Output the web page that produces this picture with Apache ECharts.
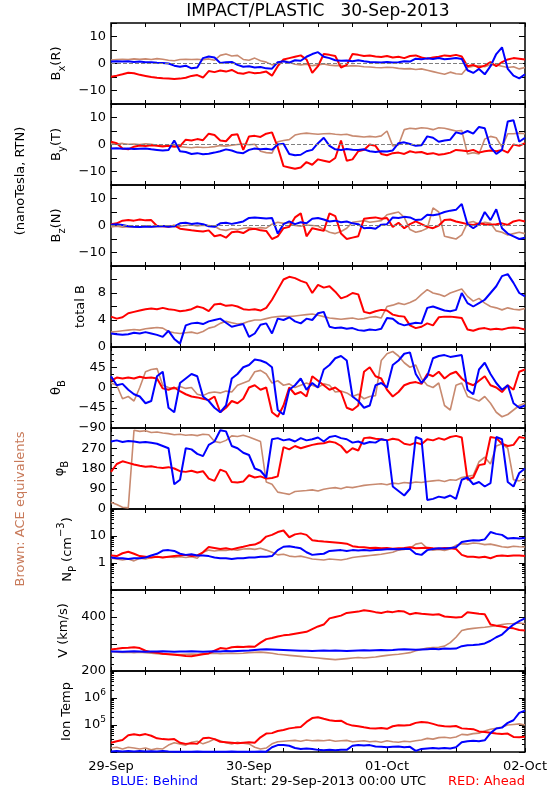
<!DOCTYPE html>
<html><head><meta charset="utf-8">
<script src="https://cdn.jsdelivr.net/npm/echarts@6/dist/echarts.min.js"></script>
<style>html,body{margin:0;padding:0;background:#fff}#c{width:550px;height:800px}</style>
</head><body><div id="c"></div><script>
// Hourly samples, 29-Sep-2013 00:00 UT (h=0) to 02-Oct-2013 00:00 UT (h=72)
const dayLabels = {0:'29-Sep', 24:'30-Sep', 48:'01-Oct', 72:'02-Oct'};

const bxBlue=[0.7,0.8,0.7,0.8,0.6,0.7,0.5,0.5,0.3,0.2,0,-0.8, -1.2,-0.8,-1.8,-1.5,2.0,2.6,2.2,0.2,0.5,0.6,-0.5,-1.2, -1.0,-1.5,-1.3,-1.8,-1.9,0.5,0.8,0.3,1.2,1.0,2.5,3.5, 4.2,2.5,2.0,1.2,1.0,1.1,0.8,1.2,0.8,0.6,0.5,0.4, 0.6,0.4,0.5,0.8,0.7,1.8,1.6,1.9,1.7,2.0,1.6,1.8, 2.0,1.7,-2.5,-3.5,-2.0,-4.0,-1.0,3.5,6.0,-2.0,-4.5,-5.5, -4.0];
const bxRed=[-4.9,-4.5,-4.0,-3.4,-3.6,-4.2,-4.6,-5.0,-5.3,-5.5,-5.6,-5.7, -5.6,-5.3,-4.6,-4.3,-5.2,-2.8,-3.2,-2.6,-3.0,-2.4,-3.5,-3.8, -3.2,-3.6,-3.4,-3.0,-4.5,-1.0,1.5,2.0,2.5,3.0,1.5,-3.5, -1.0,3.5,3.2,2.8,-1.5,-0.5,3.5,3.2,2.8,3.0,2.6,2.4, 2.8,2.2,2.5,2.0,2.8,3.0,2.2,1.8,2.2,2.5,3.0,2.8, 3.2,2.6,-1.0,-0.5,-1.5,-0.8,0.5,-1.0,0.5,1.5,2.0,1.8, 1.5];
const bxAce=[1.3,1.5,1.6,1.5,1.7,1.6,1.7,1.5,1.8,1.6,1.2,1.0, 1.5,1.6,1.5,1.6,1.4,1.7,1.2,3.0,3.5,2.8,3.0,1.5, 1.2,2.0,1.0,0.5,-0.5,0.0,1.0,0.5,-0.3,-0.5,-0.3,-0.8, -0.5,-0.2,-0.6,-0.8,-0.7,-1.0,-0.8,-0.9,-1.2,-1.3,-1.5,-1.6, -1.4,-1.5,-1.8,-2.0,-1.9,-2.2,-2.0,-2.5,-3.0,-3.5,-4.0,-3.2, -3.8,-4.0,-1.5,-1.0,-0.8,-1.2,-0.5,-0.5,-1.0,-1.5,-1.2,-2.0, -1.5];

const byBlue=[-1.5,-1.4,-1.6,-1.5,-1.7,-1.6,-1.5,-1.8,-2.0,-2.2,-2.0,1.5, -2.5,-2.8,-3.5,-3.2,-3.6,-3.4,-3.0,-2.5,-1.8,-2.2,-3.0,-3.2, -2.0,-1.5,-1.8,-1.6,-1.9,0.0,0.3,-3.5,-4.0,-3.8,-2.5,-2.0, 0.5,2.5,-0.5,-1.8,-2.0,-1.7,-1.9,-2.0,-1.8,-2.5,-2.8,-2.5, -2.6,-2.2,0.5,0.8,0.2,-0.5,-0.3,3.0,2.5,1.0,1.5,1.8, 4.5,4.0,5.0,4.0,6.5,6.0,-1.0,-3.5,-2.0,8.5,9.0,1.0, 2.5];
const byRed=[1.0,0.5,-1.5,-1.8,-0.8,-0.4,-0.6,-0.3,-0.5,-0.7,-0.5,-0.8, -0.6,1.8,1.5,2.0,1.6,4.0,3.5,1.5,1.2,3.5,3.8,-2.0, 3.0,3.2,2.8,4.0,4.5,-1.0,-8.0,-8.5,-9.0,-8.5,-6.5,-7.5, -5.5,-6.0,-6.5,-5.0,1.5,-6.0,-5.5,-2.5,-2.0,0.0,-0.5,-3.5, -4.0,-3.2,-3.0,-3.5,-2.5,-3.0,-2.8,-3.5,-3.2,-3.8,-3.5,-3.0, -2.0,-2.2,-2.5,-2.0,-3.0,-2.5,-2.2,-2.5,-2.0,-3.0,0.0,-0.5, 0.5];
const byAce=[0.3,0.2,0.4,0.1,0.2,0.0,0.3,0.1,-0.3,-0.5,-0.4,-0.6, -0.8,-1.0,-1.2,-0.9,-1.1,-1.0,-0.8,-0.4,-0.6,-0.3,0.0,0.2, -0.1,0.1,-2.5,-3.0,-3.2,1.0,1.5,1.8,3.5,4.0,4.2,4.0, 3.8,4.0,4.1,3.8,3.6,3.8,3.2,3.0,2.8,3.0,2.8,3.2, 5.0,-0.5,-0.2,5.5,6.0,5.8,6.2,6.0,5.5,6.2,6.0,5.5, 5.0,5.2,-3.5,-3.0,-3.5,2.0,3.0,2.5,-1.0,4.0,4.0,4.2, 4.0];

const bzBlue=[0.3,0.5,0.2,-0.3,-0.5,-0.6,-0.4,-0.5,-0.3,-0.2,-0.5,-0.3, 0.8,1.0,0.6,0.8,0.5,-0.3,-0.5,0.8,1.0,0.6,1.0,1.5, 2.8,3.0,2.8,2.6,2.8,-3.0,0.5,1.5,0.5,1.2,0.8,2.5, 2.8,2.2,1.5,1.8,1.2,1.5,0.8,0.5,-1.0,-0.8,-1.2,0.3, 0.5,3.0,2.8,3.2,3.0,2.0,2.2,4.0,3.8,4.2,5.0,5.5, 5.8,8.0,0.5,-1.0,0.5,5.0,2.0,6.0,-1.0,-3.0,-4.0,-5.0, -4.5];
const bzRed=[0.5,0.8,1.8,2.0,1.8,2.2,1.9,2.0,-0.2,-0.3,-0.5,0.0, -1.2,-1.5,-1.8,-2.0,-2.2,-1.8,-4.0,-3.5,-4.5,-2.5,-2.2,-2.8, -1.5,-1.2,-1.8,-2.0,-5.0,-4.0,-1.0,-0.5,3.0,4.5,-4.0,-1.0, -1.5,-2.0,4.5,3.5,-3.0,-5.0,-4.5,-4.0,2.5,2.8,3.0,2.5, 2.8,-0.5,1.0,-1.0,0.5,1.5,0.5,-0.5,-1.0,0.0,2.0,2.2, 1.5,1.0,0.5,0.2,0.8,0.5,0.3,0.5,0.8,0.2,1.5,2.0, 1.5];
const bzAce=[-0.5,-0.3,-0.6,-0.4,-0.5,-0.6,-0.3,-0.5,-0.4,-0.3,-0.2,-0.4, -0.3,0.0,0.2,-0.2,0.1,0.0,-0.3,-1.5,-1.8,-1.2,-1.5,-1.0, -0.8,-1.2,-0.8,-1.0,0.5,1.2,0.8,1.0,0.0,-0.3,0.2,0.0, -0.2,-1.5,-2.5,-3.0,-2.2,-1.0,1.2,1.5,1.8,1.2,1.5,1.8, 4.0,4.5,5.0,3.0,-1.5,-2.5,-2.0,-1.0,6.5,5.0,-4.0,-4.5, -5.0,-3.5,1.0,1.5,0.5,1.2,0.8,-2.0,-2.5,-3.5,-3.0,-2.5, -3.0];

const btBlue=[2.0,1.9,1.8,1.9,2.1,2.0,2.2,2.0,1.8,1.5,2.4,1.2, 0.5,3.2,3.5,3.6,3.4,3.8,4.0,4.2,3.6,3.0,3.2,3.4, 1.5,2.0,3.3,3.5,2.0,4.2,4.0,4.4,3.8,3.5,4.2,4.0, 5.0,5.2,3.0,2.8,2.9,2.7,2.8,2.5,2.4,2.6,2.5,2.7, 4.3,4.2,3.5,3.2,3.4,3.6,3.5,5.8,6.0,5.7,5.4,5.3, 5.5,8.0,6.5,6.0,6.5,7.0,8.0,9.0,10.5,10.8,9.5,8.0, 7.5];
const btRed=[4.5,4.2,4.4,5.0,5.2,5.4,5.6,5.7,5.6,5.8,5.6,5.5, 5.3,5.4,5.6,6.0,5.8,5.3,6.3,6.4,6.1,6.2,6.0,5.6, 5.5,5.6,5.4,5.8,7.0,8.5,10.0,10.4,10.2,9.8,9.5,8.0, 9.2,8.8,9.0,8.2,7.2,7.5,8.0,7.8,5.2,5.0,5.3,5.5, 5.4,4.8,4.6,4.5,3.2,2.8,3.0,3.5,3.2,4.4,4.5,4.5, 4.4,4.3,2.6,2.4,2.7,2.8,2.6,2.7,2.6,2.8,2.9,2.8, 2.6];
const btAce=[2.2,2.3,2.4,2.5,2.6,2.5,2.7,2.8,2.9,2.8,2.3,2.1, 2.0,2.1,2.2,2.0,2.3,2.8,3.0,3.5,3.8,3.6,3.4,3.5, 3.8,4.0,4.0,4.2,4.4,4.5,4.6,4.5,4.6,4.7,4.8,4.9, 4.7,4.5,4.3,4.2,4.1,4.2,4.3,4.1,4.2,4.4,4.5,4.3, 6.0,6.2,6.5,6.3,6.6,7.0,7.8,8.5,8.0,7.8,7.5,8.0, 8.3,8.6,7.5,6.8,7.2,6.5,6.0,5.8,5.5,5.8,5.6,5.5, 5.7];

const thBlue=[25,5,8,-5,-15,-20,-35,-30,25,35,-45,-55, 10,20,30,25,-20,-30,-45,-55,-40,20,30,45, 50,62,60,55,45,-50,-60,-5,5,20,-5,10, 0,40,50,65,70,60,-20,-30,-45,-40,5,10, 0,50,60,75,78,30,10,25,65,70,72,68, 70,72,-5,-15,40,55,30,10,-5,5,-35,-45, -40];
const thRed=[15,22,20,22,20,24,21,22,20,-2,-5,0, -8,-15,-20,-22,-25,-28,-20,-55,-45,-30,-35,-25, 0,5,-5,0,-55,-65,-40,0,-15,-10,-20,25, 15,5,-5,0,-10,-45,-50,-40,35,45,25,20, -5,-20,-10,5,10,12,8,30,25,35,20,30, 35,20,10,5,15,25,5,0,-10,5,-5,35, 40];
const thAce=[10,5,-25,-20,-30,0,35,40,42,5,0,-3, 2,-2,0,-15,-18,-12,-10,-12,-8,-10,5,10, 15,35,38,30,10,15,5,8,0,5,10,5, 0,8,5,-10,-8,-12,-20,-15,-25,-20,-18,60, 75,80,70,55,45,50,20,5,0,10,-40,-50, 5,10,-20,-25,-30,-20,-35,-55,-65,-60,-50,-40, -35];

const phBlue=[300,305,298,302,300,296,298,294,290,280,270,110, 130,270,265,245,235,285,300,350,345,280,270,250, 240,180,170,140,310,315,305,310,300,315,305,310, 318,300,320,325,315,310,295,300,290,298,295,310, 305,100,80,60,90,320,310,40,45,55,50,60, 45,130,140,110,120,100,115,320,310,120,100,160, 180];
const phRed=[165,200,212,205,198,192,188,190,185,182,186,180, 168,165,170,162,168,135,125,175,165,120,118,122, 150,140,145,135,138,145,275,265,280,270,278,285, 290,292,300,295,280,250,270,260,315,318,312,310, 305,312,308,290,285,295,288,310,305,315,308,320, 325,318,130,140,195,200,320,315,290,280,285,320, 315];
const phAce=[30,20,8,5,350,345,348,340,342,338,335,330, 332,328,330,326,332,330,300,295,305,325,322,328, 320,310,300,120,110,75,70,65,78,80,82,85, 80,88,92,95,90,98,95,100,105,108,110,112, 108,115,112,118,115,120,118,122,125,128,122,130, 128,140,145,150,210,230,200,280,290,270,130,125, 135];

const npBlue=[1.6,1.5,1.5,1.4,1.5,1.5,1.6,1.9,2.2,2.9,3.0,2.8, 2.2,2.0,2.1,1.9,1.9,1.8,1.6,1.5,1.5,1.4,1.5,1.5, 1.6,1.6,1.7,1.7,1.8,3.0,4.0,4.2,3.8,3.5,2.5,2.0, 2.1,2.2,2.8,2.9,3.0,2.8,3.0,2.9,3.0,2.9,3.0,3.1, 3.2,3.3,3.2,3.4,3.3,2.2,2.0,3.0,3.3,3.5,3.4,3.6, 3.8,6.0,6.5,7.0,6.8,7.5,14,12,11,8.0,8.5,8.0, 8.5];
const npRed=[1.9,1.8,2.3,2.6,2.2,1.8,1.7,1.6,1.7,1.6,1.7,1.8, 1.9,2.0,1.8,1.9,2.5,3.9,3.6,3.3,3.5,3.2,3.6,4.0, 4.5,4.8,6.0,9.5,11,14,16,9.0,11.5,12.5,11,7.0, 6.5,6.2,6.0,5.8,5.5,5.2,4.2,3.9,3.8,3.6,3.7,3.5, 3.6,3.4,3.5,3.6,3.8,3.5,3.6,3.7,3.5,3.4,3.6,3.5, 3.3,2.0,1.7,1.7,1.6,1.7,1.5,1.8,1.9,1.8,1.9,1.9, 1.8];
const npAce=[1.5,1.4,1.3,1.4,1.2,1.5,1.4,1.6,1.7,1.6,1.7,1.6, 1.7,1.6,1.7,1.5,2.5,3.0,2.8,3.0,2.9,3.2,3.0,3.3, 3.4,3.2,3.5,3.0,2.5,2.0,2.1,1.8,1.7,1.8,1.6,1.4, 1.35,1.3,1.4,1.35,1.3,1.4,1.6,1.7,1.8,1.9,2.0,2.1, 2.3,2.5,3.0,3.2,3.5,5.0,5.5,3.5,3.0,3.2,2.9,3.3, 4.5,5.2,5.0,5.5,5.3,4.8,5.0,4.5,4.0,3.8,4.2,4.0, 3.9];

const vBlue=[272,272,271,272,273,272,271,272,272,273,272,271, 272,272,273,272,271,272,273,272,274,273,274,275, 276,278,280,281,280,279,278,277,276,275,275,274, 275,276,275,276,275,274,275,276,277,276,277,278, 277,278,280,281,280,279,280,281,282,281,283,282, 283,292,295,296,298,302,312,325,335,355,372,385, 395];
const vRed=[280,282,285,286,288,285,275,270,268,264,262,260, 258,256,255,258,262,265,275,285,282,288,290,289, 291,290,305,318,322,328,332,334,338,342,345,355, 365,372,395,400,405,415,418,420,425,422,418,415, 420,418,422,420,410,415,412,410,408,410,402,400, 398,400,418,415,412,410,372,368,365,360,358,352, 350];
const vAce=[272,270,269,270,268,270,268,266,264,262,263,262, 261,262,263,262,264,265,266,264,265,266,265,266, 268,269,270,268,266,262,260,258,256,254,252,250, 248,246,244,242,244,246,248,250,248,250,252,255, 258,260,262,265,268,275,280,285,287,288,292,305, 325,350,355,358,360,362,365,368,372,375,376,378, 375];

const tBlue=[1.05e4,1.1e4,1.05e4,1.08e4,1.05e4,1.1e4,1.04e4,1.06e4,1.05e4,1.08e4,1.04e4,1.02e4, 1.02e4,1.03e4,1.02e4,1.04e4,1.02e4,1.03e4,1.02e4,1.03e4,1.02e4,1.04e4,1.03e4,1.02e4, 1.03e4,1.02e4,1.04e4,1.03e4,1.5e4,1.8e4,1.8e4,1.7e4,1.4e4,1.3e4,1.35e4,1.3e4, 1.2e4,1.15e4,1.2e4,1.15e4,1.2e4,1.2e4,1.7e4,1.8e4,1.75e4,1.8e4,1.6e4,1.55e4, 1.5e4,1.55e4,1.6e4,1.5e4,1.55e4,1.1e4,1.3e4,1.35e4,1.4e4,1.35e4,1.4e4,1.35e4, 1.5e4,2.3e4,2.5e4,2.6e4,2.5e4,2.7e4,5.0e4,7.4e4,8.0e4,1.2e5,1.5e5,2.8e5, 3.4e5];
const tRed=[2.2e4,2.5e4,2.8e4,4.2e4,4.5e4,4.2e4,4.6e4,4.0e4,3.2e4,3.0e4,2.9e4,3.0e4, 2.2e4,2.0e4,2.1e4,2.0e4,3.2e4,3.4e4,3.0e4,2.4e4,2.3e4,2.2e4,2.1e4,2.2e4, 2.3e4,2.2e4,3.5e4,4.8e4,5.0e4,6.0e4,6.5e4,7.5e4,8.0e4,8.5e4,1.3e5,1.8e5, 1.95e5,1.7e5,1.5e5,1.4e5,1.45e5,1.1e5,9.5e4,9.0e4,8.2e4,7.6e4,7.4e4,7.8e4, 7.2e4,9.0e4,9.8e4,9.5e4,1.0e5,1.2e5,1.3e5,1.25e5,1.1e5,9.5e4,9.0e4,8.8e4, 9.2e4,7.5e4,7.2e4,7.0e4,5.8e4,5.5e4,5.2e4,4.8e4,4.6e4,4.8e4,3.6e4,3.5e4, 3.7e4];
const tAce=[1.4e4,1.5e4,1.3e4,1.5e4,1.4e4,1.3e4,1.4e4,1.2e4,1.35e4,1.3e4,1.8e4,2.2e4, 2.0e4,1.8e4,2.3e4,2.5e4,2.0e4,2.4e4,3.0e4,2.6e4,2.2e4,2.0e4,2.3e4,2.1e4, 2.0e4,1.5e4,1.3e4,1.4e4,2.0e4,2.4e4,2.5e4,2.6e4,2.7e4,2.5e4,2.8e4,2.6e4, 2.7e4,2.6e4,2.8e4,2.5e4,2.6e4,2.7e4,2.4e4,2.5e4,2.6e4,2.4e4,2.5e4,2.3e4, 2.6e4,2.4e4,2.3e4,2.5e4,2.4e4,2.6e4,2.8e4,3.2e4,3.0e4,3.4e4,3.5e4,3.3e4, 3.6e4,4.5e4,4.3e4,4.8e4,5.0e4,6.0e4,7.0e4,7.5e4,8.5e4,1.0e5,1.05e5,1.1e5, 1.0e5];

// ---------- layout / styling ----------
const FONT = 'DejaVu Sans';
const BLUE='#0000ff', RED='#ff0000', ACE='#c88a70';
const L=111, R=25, TOP=23, H=81;
const minus = v => String(v).replace('-', '\u2212');
const logMinor = (lo, hi) => { const a=[]; for (let d=lo; d<hi; d*=10) for (let k=2;k<=9;k++) a.push(+(d*k).toPrecision(3)); return a; };

const panels = [
  {name:'B{sub|x}(R)', data:[bxAce,bxRed,bxBlue], min:-15,max:15,interval:5,minor:0,gap:28,zero:true, fmt:v=>(v%10===0&&Math.abs(v)<15)?minus(v):''},
  {name:'B{sub|y}(T)', data:[byAce,byRed,byBlue], min:-15,max:15,interval:5,minor:0,gap:28,zero:true, fmt:v=>(v%10===0&&Math.abs(v)<15)?minus(v):''},
  {name:'B{sub|z}(N)', data:[bzAce,bzRed,bzBlue], min:-15,max:15,interval:5,minor:0,gap:28,zero:true, fmt:v=>(v%10===0&&Math.abs(v)<15)?minus(v):''},
  {name:'total B', data:[btAce,btRed,btBlue], min:0,max:12,interval:2,minor:0,gap:20, fmt:v=>(v%4===0&&v<12)?String(v):''},
  {name:'\u03b8{sub|B}', data:[thAce,thRed,thBlue], min:-90,max:90,interval:45,minor:3,gap:27, fmt:v=>v<90?minus(v):''},
  {name:'\u03c6{sub|B}', data:[phAce,phRed,phBlue], min:0,max:360,interval:90,minor:3,gap:27, fmt:v=>v<360?String(v):''},
  {name:'N{sub|P} (cm{sup|\u22123})', data:[npAce,npRed,npBlue], type:'log', min:0.1,max:100,gap:20, fmt:v=>Math.abs(v-1)<1e-9?'1':Math.abs(v-10)<1e-9?'10':''},
  {name:'V (km/s)', data:[vAce,vRed,vBlue], min:200,max:500,interval:100,minor:4,gap:29, fmt:v=>(v===200||v===400)?String(v):''},
  {name:'Ion Temp', data:[tAce,tRed,tBlue], type:'log', min:1e4,max:1e7,gap:26, fmt:v=>Math.abs(v-1e5)<1?'10{sup|5}':Math.abs(v-1e6)<1?'10{sup|6}':''}
];

const grid=[], xAxis=[], yAxis=[], series=[];
const richT = {sub:{fontFamily:FONT,fontSize:10,lineHeight:22,verticalAlign:'bottom',color:'#000'},
               sup:{fontFamily:FONT,fontSize:10,lineHeight:22,verticalAlign:'top',color:'#000'}};
const tickStyle = () => ({color:'#000', width:1});

panels.forEach((p,i)=>{
  grid.push({left:L, right:R, top:TOP+H*i, height:H, show:true, borderColor:'#000', borderWidth:1.5, backgroundColor:'transparent'});
  ['bottom','top'].forEach(pos=>{
    xAxis.push({gridIndex:i, type:'value', min:0, max:72, interval:6, position:pos,
      axisLine:{show:false, onZero:false}, splitLine:{show:false},
      axisTick:{show:true, inside:true, length:4, lineStyle:tickStyle()},
      axisLabel:{show:(i===8&&pos==='bottom'), margin:8, fontFamily:FONT, fontSize:13, color:'#000',
        showMinLabel:true, showMaxLabel:true, formatter:v=>dayLabels[v]||''}});
  });
  const isLog = p.type==='log';
  const yi = yAxis.length;
  ['left','right'].forEach(pos=>{
    const ax = {gridIndex:i, type:isLog?'log':'value', min:p.min, max:p.max, position:pos,
      axisLine:{show:false, onZero:false}, splitLine:{show:false},
      axisTick:{show:true, inside:true, length:6, lineStyle:tickStyle()},
      axisLabel:{show:pos==='left', margin:5, fontFamily:FONT, fontSize:13, color:'#000',
        showMinLabel:true, showMaxLabel:true, formatter:p.fmt, rich:{sup:{fontFamily:FONT,fontSize:9,verticalAlign:'top',lineHeight:20,color:'#000'}}}};
    if (!isLog) ax.interval = p.interval;
    if (p.minor) ax.minorTick = {show:true, splitNumber:p.minor, length:3, lineStyle:tickStyle()};
    if (pos==='left') Object.assign(ax, {name:p.name, nameLocation:'middle', nameRotate:90, nameGap:p.gap,
      nameTextStyle:{fontFamily:FONT, fontSize:13, color:'#000', rich:richT}});
    yAxis.push(ax);
  });
  if (isLog) {
    ['left','right'].forEach(pos=>{
      yAxis.push({gridIndex:i, type:'log', min:p.min, max:p.max, position:pos,
        axisLine:{show:false, onZero:false}, splitLine:{show:false}, axisLabel:{show:false},
        axisTick:{show:true, inside:true, length:3, lineStyle:tickStyle(), customValues:logMinor(p.min,p.max)}});
    });
  }
  const colors=[ACE,RED,BLUE], widths=[1.6,2,2];
  p.data.forEach((arr,k)=>{
    const s = {type:'line', xAxisIndex:2*i, yAxisIndex:yi, showSymbol:false, symbol:'none',
      data:arr.map((v,h)=>[h,v]), lineStyle:{color:colors[k], width:widths[k]}, itemStyle:{color:colors[k]},
      silent:true, animation:false, z:2+k};
    if (k===0 && p.zero) s.markLine = {silent:true, symbol:'none', label:{show:false},
      lineStyle:{type:'dashed', color:'#808080', width:1}, data:[{yAxis:0}]};
    series.push(s);
  });
});

const graphic = [
  {type:'text', x:318, y:12, style:{text:'IMPACT/PLASTIC   30-Sep-2013', font:'17px "DejaVu Sans"', fill:'#000', textAlign:'center', textVerticalAlign:'middle'}},
  {type:'text', x:21, y:181, rotation:Math.PI/2, style:{text:'(nanoTesla, RTN)', font:'13px "DejaVu Sans"', fill:'#000', textAlign:'center', textVerticalAlign:'middle'}},
  {type:'text', x:21, y:509, rotation:Math.PI/2, style:{text:'Brown: ACE equivalents', font:'13px "DejaVu Sans"', fill:'#c87a5a', textAlign:'center', textVerticalAlign:'middle'}},
  {type:'text', x:111, y:782, style:{text:'BLUE: Behind', font:'13px "DejaVu Sans"', fill:BLUE, textAlign:'left', textVerticalAlign:'middle'}},
  {type:'text', x:426, y:782, style:{text:'Start: 29-Sep-2013 00:00 UTC', font:'13px "DejaVu Sans"', fill:'#000', textAlign:'right', textVerticalAlign:'middle'}},
  {type:'text', x:525, y:782, style:{text:'RED: Ahead', font:'13px "DejaVu Sans"', fill:RED, textAlign:'right', textVerticalAlign:'middle'}}
];

const chart = echarts.init(document.getElementById('c'), null, {renderer:'canvas'});
chart.setOption({animation:false, backgroundColor:'#fff', grid, xAxis, yAxis, series, graphic});
</script></body></html>
